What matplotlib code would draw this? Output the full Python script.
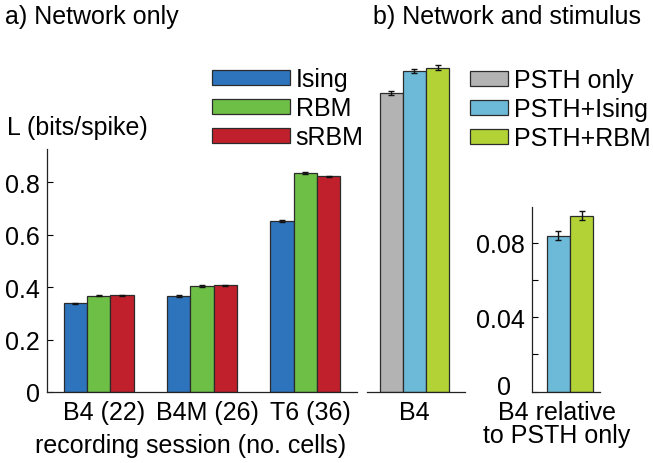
import matplotlib
matplotlib.use("Agg")
import matplotlib.pyplot as plt
import matplotlib.transforms as mtransforms
from matplotlib.patches import Patch
import numpy as np

plt.rcParams['font.family'] = ['Liberation Sans', 'DejaVu Sans']
plt.rcParams['font.size'] = 18

# ---- data ----
sessions = ["B4 (22)", "B4M (26)", "T6 (36)"]
net_models = ["Ising", "RBM", "sRBM"]
ising_L = [0.338, 0.365, 0.652]
rbm_L = [0.367, 0.405, 0.836]
srbm_L = [0.369, 0.406, 0.823]
ising_err = [0.003, 0.003, 0.003]
rbm_err = [0.003, 0.003, 0.004]
srbm_err = [0.002, 0.003, 0.002]

stim_models = ["PSTH only", "PSTH+Ising", "PSTH+RBM"]
stim_L = [1.139, 1.224, 1.236]
stim_err = [0.009, 0.008, 0.008]

rel_models = ["PSTH+Ising", "PSTH+RBM"]
rel_L = [0.0838, 0.0945]
rel_err = [0.0025, 0.0025]

net_colors = ["#2E74BC", "#6DBF46", "#C0202B"]
stim_colors = ["#B3B3B3", "#6DB9D8", "#B2D236"]
edge = "#2b2b2b"

W, H = 653, 464
fig = plt.figure(figsize=(W / 100, H / 100), dpi=100)

def rect(x0, x1, ytop, ybot):
    return [x0 / W, 1 - ybot / H, (x1 - x0) / W, (ybot - ytop) / H]

bw = 0.225
ekw = dict(elinewidth=1.0, capsize=2.5, capthick=1.0, ecolor="#111111")

# ---- panel a ----
axA = fig.add_axes(rect(47, 357, 150, 393))
x = np.arange(1, len(sessions) + 1)
for i, (vals, errs) in enumerate([(ising_L, ising_err), (rbm_L, rbm_err), (srbm_L, srbm_err)]):
    axA.bar(x + (i - 1) * bw, vals, bw, yerr=errs, color=net_colors[i],
            edgecolor=edge, linewidth=0.9, error_kw=ekw, label=net_models[i])
axA.set_xlim(0.5, 3.5)
axA.set_ylim(0, 0.926)
axA.set_yticks([0, 0.2, 0.4, 0.6, 0.8])
axA.set_yticklabels(["0", "0.2", "0.4", "0.6", "0.8"])
axA.set_xticks(x)
axA.set_xticklabels(sessions)
axA.tick_params(axis='y', direction='in', length=4, pad=5, width=0.8)
axA.tick_params(axis='x', length=0, pad=6)
offset = mtransforms.ScaledTranslation(5 / 100, 0, fig.dpi_scale_trans)
for lbl in axA.get_xticklabels():
    lbl.set_transform(lbl.get_transform() + offset)
for s in ["top", "right"]:
    axA.spines[s].set_visible(False)
for s in ["left", "bottom"]:
    axA.spines[s].set_linewidth(0.9)
    axA.spines[s].set_color("#222222")

fig.text(191 / W, 1 - 446 / H, "recording session (no. cells)", ha='center', va='center')
fig.text(5 / W, 1 - 17 / H, "a) Network only", ha='left', va='center')
fig.text(7 / W, 1 - 128 / H, "L (bits/spike)", ha='left', va='center')

hA = [Patch(facecolor=c, edgecolor=edge, linewidth=0.9) for c in net_colors]
fig.legend(hA, net_models, loc='upper left', bbox_to_anchor=(212 / W, 1 - 68 / H),
           frameon=False, handlelength=3.1, handleheight=0.55, handletextpad=0.25,
           labelspacing=0.2, borderpad=0.0, borderaxespad=0.0)

# ---- panel b: network and stimulus ----
axB = fig.add_axes(rect(367, 465, 60, 393))
xb = np.array([-1, 0, 1]) * bw
axB.bar(xb, stim_L, bw, yerr=stim_err, color=stim_colors, edgecolor=edge,
        linewidth=0.9, error_kw=ekw)
axB.set_xlim(-0.459, 0.488)
axB.set_ylim(0, 333 / 262.5)
axB.set_yticks([])
axB.set_xticks([0])
axB.set_xticklabels(["B4"])
axB.tick_params(axis='x', length=0, pad=6)
for s in ["top", "right", "left"]:
    axB.spines[s].set_visible(False)
axB.spines["bottom"].set_linewidth(0.9)
axB.spines["bottom"].set_color("#222222")

fig.text(373 / W, 1 - 17 / H, "b) Network and stimulus", ha='left', va='center')

hB = [Patch(facecolor=c, edgecolor=edge, linewidth=0.9) for c in stim_colors]
fig.legend(hB, stim_models, loc='upper left', bbox_to_anchor=(470 / W, 1 - 69 / H),
           frameon=False, handlelength=1.5, handleheight=0.55, handletextpad=0.25,
           labelspacing=0.2, borderpad=0.0, borderaxespad=0.0)

# ---- panel b inset: relative ----
axC = fig.add_axes(rect(532, 600, 208.3, 392.7))
xc = np.array([-0.5, 0.5]) * bw
axC.bar(xc, rel_L, bw, yerr=rel_err, color=stim_colors[1:], edgecolor=edge,
        linewidth=0.9, error_kw=ekw)
axC.set_xlim(-0.367, 0.29)
axC.set_ylim(0, 0.099)
axC.set_yticks([0, 0.04, 0.08])
axC.set_yticklabels(["0", "0.04", "0.08"])
axC.set_yticks([0.02, 0.06], minor=True)
axC.tick_params(axis='y', which='both', direction='in', length=4, pad=5, width=0.8)
axC.set_xticks([])
zero_off = mtransforms.ScaledTranslation(-14 / 100, 7 / 100, fig.dpi_scale_trans)
zlbl = axC.get_yticklabels()[0]
zlbl.set_transform(zlbl.get_transform() + zero_off)
for s in ["top", "right"]:
    axC.spines[s].set_visible(False)
for s in ["left", "bottom"]:
    axC.spines[s].set_linewidth(0.9)
    axC.spines[s].set_color("#222222")
fig.text(557 / W, 1 - 401 / H, "B4 relative\nto PSTH only", ha='center', va='top',
         linespacing=0.95)

fig.savefig("out.png", dpi=100)
